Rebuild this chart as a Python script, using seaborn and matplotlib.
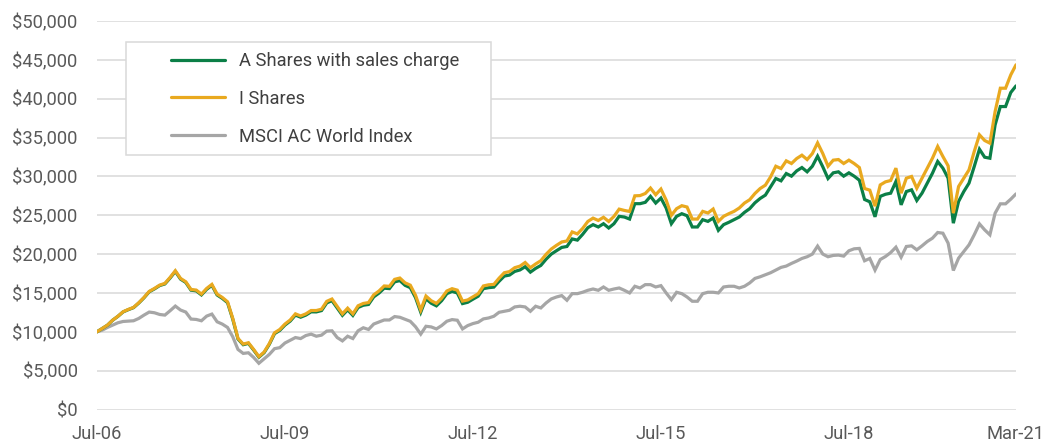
import numpy as np
import pandas as pd
import matplotlib
matplotlib.use("Agg")
import matplotlib.pyplot as plt
from matplotlib.ticker import FuncFormatter
from matplotlib.lines import Line2D
from matplotlib.patches import Rectangle
import seaborn as sns

# ---- data (growth of $10,000, monthly, Jul-06 .. Mar-21) ----
series_names = ["A Shares with sales charge", "I Shares", "MSCI AC World Index"]

i_shares = [
    10000, 10430, 10860, 11500, 12000, 12580, 12880, 13140, 13740, 14420,
    15200, 15580, 16010, 16230, 17000, 17860, 16870, 16440, 15450, 15370,
    14850, 15580, 16100, 14850, 14420, 13860, 11720, 9150, 8420, 8590,
    7730, 6800, 7390, 8480, 9870, 10300, 11000, 11520, 12310, 12040,
    12310, 12740, 12740, 12910, 13920, 14220, 13260, 12310, 13040, 12310,
    13350, 13650, 13760, 14760, 15250, 15900, 15850, 16750, 16920, 16300,
    16000, 14700, 12800, 14600, 14000, 13650, 14330, 15250, 15550, 15360,
    13950, 14100, 14500, 14900, 15900, 16050, 16100, 16900, 17600, 17750,
    18250, 18450, 18920, 18250, 18730, 19150, 19970, 20650, 21130, 21560,
    21690, 22850, 22600, 23300, 24200, 24630, 24330, 24740, 24200, 24850,
    25790, 25620, 25490, 27500, 27530, 27800, 28500, 27640, 28370, 26950,
    25000, 25850, 26230, 26060, 24510, 24510, 25500, 25290, 25800, 24210,
    24860, 25200, 25500, 25930, 26570, 27000, 27800, 28440, 28870, 29940,
    31310, 31010, 32000, 31660, 32300, 32730, 32170, 32940, 34310, 32940,
    31310, 32090, 32170, 31660, 32090, 31660, 31140, 28440, 28230, 26170,
    28900, 29300, 29470, 31060, 27840, 29770, 29990, 28480, 29770, 31060,
    32340, 33850, 32560, 31360, 25270, 28700, 29770, 30840, 33200, 35350,
    34620, 34280, 38350, 41350, 41350, 43070, 44360,
]

a_shares = [
    10000, 10420, 10850, 11490, 11985, 12560, 12850, 13110, 13700, 14380,
    15150, 15520, 15950, 16160, 16920, 17770, 16780, 16350, 15360, 15270,
    14750, 15470, 15980, 14740, 14300, 13750, 11620, 9070, 8340, 8510,
    7650, 6730, 7310, 8390, 9760, 10180, 10870, 11380, 12150, 11880,
    12150, 12570, 12560, 12730, 13720, 14010, 13060, 12120, 12830, 12110,
    13130, 13420, 13520, 14500, 14980, 15610, 15560, 16430, 16590, 15980,
    15680, 14400, 12520, 14250, 13680, 13340, 14000, 14910, 15200, 15000,
    13630, 13800, 14200, 14580, 15550, 15680, 15750, 16500, 17170, 17300,
    17770, 17960, 18380, 17680, 18160, 18540, 19340, 20000, 20440, 20860,
    20980, 21950, 21800, 22540, 23400, 23790, 23490, 23910, 23360, 23910,
    24860, 24770, 24510, 26490, 26490, 26660, 27430, 26570, 27210, 25930,
    23910, 24860, 25200, 24940, 23490, 23490, 24430, 24210, 24640, 23060,
    23790, 24090, 24430, 24770, 25370, 25850, 26600, 27160, 27590, 28660,
    29730, 29430, 30370, 30030, 30710, 31140, 30590, 31310, 32600, 31230,
    29730, 30460, 30590, 30030, 30460, 30030, 29510, 27030, 26730, 24800,
    27430, 27700, 27840, 29340, 26340, 28050, 28270, 26900, 27840, 29130,
    30410, 31920, 31060, 29770, 23980, 26770, 28050, 29130, 31270, 33500,
    32470, 32340, 36630, 38990, 38990, 40800, 41650,
]

msci_acwi = [
    10000, 10210, 10560, 10860, 11160, 11330, 11370, 11420, 11720, 12150,
    12540, 12450, 12230, 12150, 12710, 13310, 12800, 12540, 11640, 11590,
    11420, 12020, 12280, 11290, 10990, 10560, 9360, 7730, 7220, 7300,
    6700, 5950, 6520, 7090, 7830, 7960, 8560, 8910, 9260, 9130,
    9520, 9700, 9430, 9570, 10090, 10130, 9260, 8830, 9430, 9130,
    10130, 10520, 10300, 11000, 11260, 11520, 11520, 11960, 11870, 11610,
    11350, 10650, 9700, 10710, 10630, 10370, 10800, 11360, 11570, 11490,
    10370, 10800, 11060, 11230, 11660, 11780, 12000, 12510, 12640, 12770,
    13200, 13290, 13200, 12640, 13290, 13070, 13710, 14230, 14480, 14660,
    14060, 14910, 14910, 15090, 15340, 15510, 15340, 15770, 15340, 15510,
    15640, 15340, 15000, 15860, 15640, 16070, 16070, 15770, 15940, 15000,
    14140, 15090, 14910, 14480, 13930, 13930, 14910, 15090, 15090, 15000,
    15770, 15860, 15860, 15640, 15860, 16290, 16870, 17080, 17340, 17600,
    17940, 18290, 18460, 18800, 19100, 19440, 19660, 20000, 21030, 20000,
    19660, 19830, 19870, 19740, 20430, 20680, 20730, 19140, 19440, 17940,
    19300, 19690, 20200, 20890, 19600, 20980, 21060, 20550, 21060, 21620,
    22050, 22780, 22690, 21410, 17890, 19470, 20330, 21190, 22480, 23890,
    23120, 22480, 25270, 26470, 26470, 27070, 27750,
]

tick_months = [0, 36, 72, 108, 144, 176]
tick_labels = ["Jul-06", "Jul-09", "Jul-12", "Jul-15", "Jul-18", "Mar-21"]
y_ticks = [0, 5000, 10000, 15000, 20000, 25000, 30000, 35000, 40000, 45000, 50000]

colors = {
    "A Shares with sales charge": "#0b7f47",
    "I Shares": "#e9a91f",
    "MSCI AC World Index": "#a6a6a6",
}

# ---- build tidy frame ----
n = len(i_shares)
months = np.arange(n)
df = pd.concat([
    pd.DataFrame({"month": months, "value": a_shares, "series": series_names[0]}),
    pd.DataFrame({"month": months, "value": i_shares, "series": series_names[1]}),
    pd.DataFrame({"month": months, "value": msci_acwi, "series": series_names[2]}),
], ignore_index=True)

sns.set_theme(style="white")
plt.rcParams["font.family"] = ["Roboto", "DejaVu Sans"]

W, H = 1062, 444
fig = plt.figure(figsize=(W / 100, H / 100), dpi=100)
left, right, top, bottom = 97, 1016, 21, 409.5
ax = fig.add_axes([left / W, 1 - bottom / H, (right - left) / W, (bottom - top) / H])

lw = 2.3
for name in [series_names[2], series_names[0], series_names[1]]:
    sns.lineplot(data=df[df["series"] == name], x="month", y="value",
                 color=colors[name], linewidth=lw, ax=ax, legend=False,
                 solid_joinstyle="miter", zorder=3)

ax.set_xlim(0, n - 1)
ax.set_ylim(0, 50000)
ax.set_yticks(y_ticks)
ax.yaxis.set_major_formatter(FuncFormatter(lambda v, p: "${:,.0f}".format(v)))
ax.set_xticks(tick_months)
ax.set_xticklabels(tick_labels)
ax.set_xlabel("")
ax.set_ylabel("")
ax.grid(axis="y", color="#d9d9d9", linewidth=1.1)
ax.grid(axis="x", visible=False)
ax.set_axisbelow(True)
for s in ax.spines.values():
    s.set_visible(False)
ax.tick_params(axis="y", length=0, pad=14, labelsize=13.2, labelcolor="#595959")
ax.tick_params(axis="x", length=0, pad=11, labelsize=13.2, labelcolor="#595959")
for lab in ax.get_yticklabels() + ax.get_xticklabels():
    lab.set_fontfamily(["Roboto", "DejaVu Sans"])

# legend frame
rect = Rectangle((126 / W, 1 - 155 / H), 365 / W, 113 / H, transform=fig.transFigure,
                 facecolor="white", edgecolor="#d9d9d9", linewidth=1.1, zorder=4)
fig.add_artist(rect)

handles = [Line2D([0], [0], color=colors[nm], linewidth=lw) for nm in series_names]
leg = fig.legend(handles, series_names, loc="upper left",
                 bbox_to_anchor=(171 / W, 1 - 52 / H), bbox_transform=fig.transFigure,
                 frameon=False, borderpad=0, borderaxespad=0,
                 handlelength=2.95, handletextpad=0.75, labelspacing=1.08,
                 prop={"size": 13.2, "family": ["Roboto", "DejaVu Sans"]})
for t in leg.get_texts():
    t.set_color("#404040")
leg.set_zorder(5)

fig.savefig("out.png", dpi=100)
